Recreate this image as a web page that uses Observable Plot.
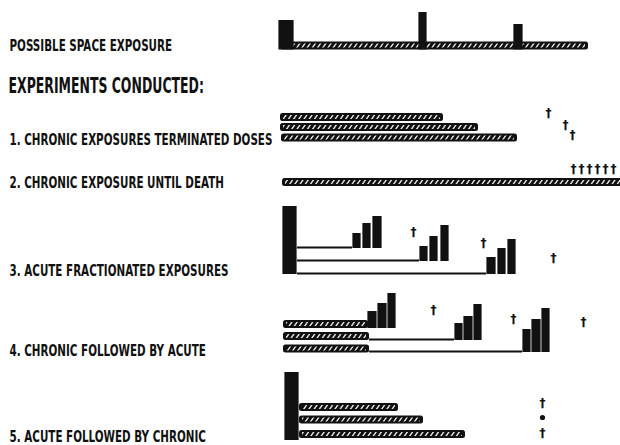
<!DOCTYPE html>
<html>
<head>
<meta charset="utf-8">
<script src="https://cdn.jsdelivr.net/npm/d3@7"></script>
<script src="https://cdn.jsdelivr.net/npm/@observablehq/plot@0.6"></script>
<style>
  html, body { margin: 0; padding: 0; background: #fff; }
  svg { display: block; }
</style>
</head>
<body>
<div id="chart"></div>
<script>
// ---- Row labels ----
const labels = [
  "POSSIBLE SPACE EXPOSURE",
  "EXPERIMENTS CONDUCTED:",
  "1. CHRONIC EXPOSURES TERMINATED DOSES",
  "2. CHRONIC EXPOSURE UNTIL DEATH",
  "3. ACUTE FRACTIONATED EXPOSURES",
  "4. CHRONIC FOLLOWED BY ACUTE",
  "5. ACUTE FOLLOWED BY CHRONIC"
];
const labelY = [45, 86, 139, 182, 270, 350, 436];

// ---- Chronic (hatched) exposures: time start, time end, lane ----
const chronicStart = [0, 0, 0, 1, 2, 3, 3, 3, 19, 19, 19];
const chronicEnd   = [308, 163, 198, 237, 345, 88, 89, 89, 118, 143, 185];
const chronicLane  = [45.5, 117, 127, 137.5, 182, 324, 336, 348.5, 407, 419.5, 434];

// ---- Acute (solid) exposures: time start, time end, dose top, base ----
const acuteStart = [-2, 138, 233,   2, 72, 82, 92, 139, 149, 160, 206, 217, 227,   87, 97, 107, 174, 183, 193, 242, 251, 261,   4];
const acuteEnd   = [14, 147, 243,  17, 81, 91, 102, 148, 158, 169, 216, 226, 236,  97, 107, 116, 183, 193, 202, 251, 261, 270,  19];
const acuteTop   = [20, 12, 24,   206, 233, 223, 216, 246, 236, 225, 257, 248, 239,  311, 303, 293, 323, 316, 304, 329, 319, 308,  372];
const acuteBase  = [49.5, 49.5, 49.5,  274, 248, 248, 248, 261, 261, 261, 274, 274, 274,  328, 328, 328, 340, 340, 340, 352, 352, 352,  440];

// ---- Waiting periods (thin lines) ----
const waitStart = [17, 17, 17, 89, 89];
const waitEnd   = [72, 139, 206, 174, 242];
const waitLane  = [247, 260, 273, 339, 351];

// ---- Deaths (daggers) ----
const deathT    = [268, 285, 292, 293, 301, 309, 317, 325, 333, 133, 203, 273, 153, 233, 303, 262, 262];
const deathLane = [113, 125, 135, 169, 169, 169, 169, 169, 169, 232, 243, 258, 310, 319, 322, 403, 433];

// ---- Survivor (dot) ----
const dotT = [262];
const dotLane = [417];

// Build tables
const labelData = labels.map((t, i) => ({text: t, y: labelY[i], title: i === 1}));
const chronic = chronicStart.map((s, i) => ({s, e: chronicEnd[i], y: chronicLane[i]}));
const acute = acuteStart.map((s, i) => ({s, e: acuteEnd[i], top: acuteTop[i], base: acuteBase[i]}));
const waits = waitStart.map((s, i) => ({s, e: waitEnd[i], y: waitLane[i]}));
const deaths = deathT.map((t, i) => ({t, y: deathLane[i]}));
const dots = dotT.map((t, i) => ({t, y: dotLane[i]}));

const BAND = 4; // half thickness of a chronic bar
const FONT = "'DejaVu Sans Condensed', 'DejaVu Sans', sans-serif";

const svg = Plot.plot({
  width: 620,
  height: 445,
  margin: 0,
  style: {background: "#fff"},
  x: {domain: [0, 340], range: [280, 620], axis: null},
  y: {domain: [0, 445], range: [0, 445], axis: null},
  marks: [
    Plot.ruleY(waits, {x1: "s", x2: "e", y: "y", stroke: "#111", strokeWidth: 2.2}),
    Plot.rect(chronic, {x1: "s", x2: "e", y1: d => d.y - BAND, y2: d => d.y + BAND, fill: "#111", rx: 2.5}),
    Plot.rect(chronic, {x1: "s", x2: "e", y1: d => d.y - BAND, y2: d => d.y + BAND, fill: "url(#hatch)",
      insetTop: 2, insetBottom: 2, insetLeft: 3, insetRight: 3}),
    Plot.rect(acute, {x1: "s", x2: "e", y1: "top", y2: "base", fill: "#111", insetLeft: 0.4, insetRight: 0.4}),
    Plot.text(deaths, {x: "t", y: "y", text: () => "\u2020", fontSize: 12, fontWeight: "bold", fill: "#111",
      fontFamily: "'DejaVu Sans', sans-serif"}),
    Plot.dot(dots, {x: "t", y: "y", r: 2.6, fill: "#111", stroke: "none"}),
    Plot.text(labelData.filter(d => !d.title), {y: "y", text: "text", frameAnchor: "left", textAnchor: "start", dx: 9,
      fontSize: 16, fontWeight: "bold", fill: "#111", fontFamily: FONT}),
    Plot.text(labelData.filter(d => d.title), {y: "y", text: "text", frameAnchor: "left", textAnchor: "start", dx: 8,
      fontSize: 21, fontWeight: "bold", fill: "#111", fontFamily: FONT})
  ]
});

// Hatch pattern definition
const defs = d3.select(svg).insert("defs", ":first-child");
const pat = defs.append("pattern")
  .attr("id", "hatch")
  .attr("patternUnits", "userSpaceOnUse")
  .attr("width", 5.2)
  .attr("height", 10)
  .attr("patternTransform", "skewX(-35)");
pat.append("rect").attr("width", 5.2).attr("height", 10).attr("fill", "#111");
pat.append("line").attr("x1", 2.6).attr("x2", 2.6).attr("y1", 0).attr("y2", 10)
  .attr("stroke", "#fff").attr("stroke-width", 1.5);

document.getElementById("chart").appendChild(svg);

// Condense the lettering like the original narrow poster type
d3.select(svg).selectAll("text")
  .filter(function() { return labels.includes(this.textContent); })
  .each(function() {
    const k = this.textContent === labels[1] ? 0.66 : 0.72;
    const len = this.getComputedTextLength();
    this.setAttribute("textLength", (len * k).toFixed(1));
    this.setAttribute("lengthAdjust", "spacingAndGlyphs");
  });
</script>
</body>
</html>
